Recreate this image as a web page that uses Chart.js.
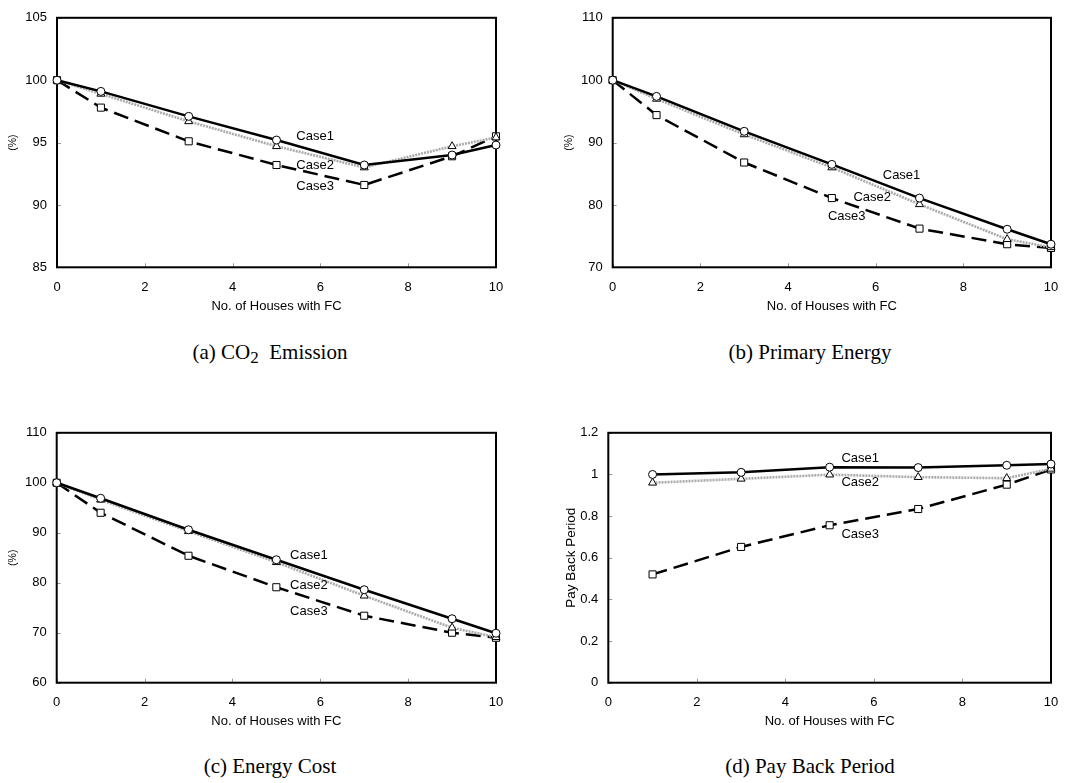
<!DOCTYPE html>
<html>
<head>
<meta charset="utf-8">
<script src="https://cdn.jsdelivr.net/npm/chart.js@4.4.1/dist/chart.umd.min.js"></script>
<style>
  html, body { margin: 0; padding: 0; background: #fff; }
  body { width: 1081px; height: 783px; position: relative; overflow: hidden; }
  .wrap { position: absolute; width: 540px; height: 320px; }
  .cap { position: absolute; width: 540px; text-align: center; font-family: "Liberation Serif", "DejaVu Serif", serif; font-size: 21px; line-height: 20px; color: #000; }
  .cap sub { font-size: 17px; vertical-align: -4px; line-height: 0; }
</style>
</head>
<body>
<div class="wrap" style="left:0;top:0"><canvas id="ca"></canvas></div>
<div class="wrap" style="left:540px;top:0;width:541px"><canvas id="cb"></canvas></div>
<div class="wrap" style="left:0;top:415px"><canvas id="cc"></canvas></div>
<div class="wrap" style="left:540px;top:415px;width:541px"><canvas id="cd"></canvas></div>
<div class="cap" style="left:0;top:342px">(a) CO<sub>2</sub>&nbsp; Emission</div>
<div class="cap" style="left:540px;top:342px">(b) Primary Energy</div>
<div class="cap" style="left:0;top:756px">(c) Energy Cost</div>
<div class="cap" style="left:540px;top:756px">(d) Pay Back Period</div>
<script>
// ---------- data ----------
const seriesNames = ["Case1", "Case2", "Case3"];
const housesA = [0, 1, 3, 5, 7, 9, 10];
const housesD = [1, 3, 5, 7, 9, 10];

const co2Case1 = [100, 99.1, 97.1, 95.2, 93.2, 94.0, 94.8];
const co2Case2 = [100, 98.9, 96.7, 94.7, 93.0, 94.7, 95.4];
const co2Case3 = [100, 97.8, 95.1, 93.2, 91.6, 93.9, 95.5];

const peCase1 = [100, 97.4, 91.8, 86.5, 81.1, 76.1, 73.7];
const peCase2 = [100, 97.0, 91.3, 86.0, 80.1, 74.5, 73.2];
const peCase3 = [100, 94.4, 86.8, 81.1, 76.2, 73.7, 73.1];

const costCase1 = [100, 96.9, 90.6, 84.6, 78.6, 72.8, 69.9];
const costCase2 = [100, 96.6, 90.3, 84.1, 77.4, 71.0, 69.1];
const costCase3 = [100, 94.0, 85.4, 79.1, 73.4, 70.0, 69.0];

const pbCase1 = [1.00, 1.01, 1.035, 1.033, 1.044, 1.05];
const pbCase2 = [0.96, 0.979, 0.999, 0.987, 0.982, 1.027];
const pbCase3 = [0.52, 0.652, 0.756, 0.834, 0.951, 1.024];

const xTitle = "No. of Houses with FC";
const yTitleA = "(%)";
const yTitleD = "Pay Back Period";

// ---------- styles ----------
const FONT = "'Liberation Sans', Arial, sans-serif";
const seriesStyle = [
  { borderColor: "#000", borderWidth: 2.5, borderDash: [], pointStyle: "circle", pointRadius: 4 },
  { borderColor: "#aaaaaa", borderWidth: 2.6, borderDash: [2, 1], pointStyle: "triangle", pointRadius: 4.6 },
  { borderColor: "#000", borderWidth: 2.5, borderDash: [15, 7], pointStyle: "rect", pointRadius: 5 }
];

function makeDatasets(xs, arrays) {
  return arrays.map((arr, i) => Object.assign({
    label: seriesNames[i],
    data: xs.map((x, j) => ({ x: x, y: arr[j] })),
    pointBackgroundColor: "#fff",
    pointBorderColor: "#000",
    pointBorderWidth: 1,
    tension: 0,
    clip: false,
    order: i
  }, seriesStyle[i]));
}

const framePlugin = {
  id: "frame",
  beforeDatasetsDraw(chart) {
    const a = chart.chartArea, ctx = chart.ctx;
    const xs = chart.scales.x, ys = chart.scales.y;
    ctx.save();
    ctx.strokeStyle = "#999";
    ctx.lineWidth = 1;
    xs.ticks.forEach(t => {
      const px = Math.round(xs.getPixelForValue(t.value)) + 0.5;
      ctx.beginPath(); ctx.moveTo(px, a.bottom); ctx.lineTo(px, a.bottom - 4); ctx.stroke();
    });
    ys.ticks.forEach(t => {
      const py = Math.round(ys.getPixelForValue(t.value)) + 0.5;
      ctx.beginPath(); ctx.moveTo(a.left, py); ctx.lineTo(a.left + 4, py); ctx.stroke();
    });
    ctx.strokeStyle = "#000";
    ctx.lineWidth = 2;
    ctx.strokeRect(a.left, a.top, a.right - a.left, a.bottom - a.top);
    ctx.restore();
  },
  afterDraw(chart, args, opts) {
    const a = chart.chartArea, ctx = chart.ctx;
    const xs = chart.scales.x, ys = chart.scales.y;
    ctx.save();
    ctx.fillStyle = "#000";
    ctx.textAlign = "center";
    ctx.textBaseline = "middle";
    ctx.font = "13px " + FONT;
    ctx.fillText(xTitle, (a.left + a.right) / 2, a.bottom + 39);
    (opts.labels || []).forEach((lb, i) => {
      ctx.fillText(seriesNames[i], xs.getPixelForValue(lb[0]), ys.getPixelForValue(lb[1]));
    });
    ctx.translate(opts.yTitleX, (a.top + a.bottom) / 2);
    ctx.rotate(-Math.PI / 2);
    ctx.font = opts.yTitleFont + "px " + FONT;
    ctx.fillText(opts.yTitle, 0, 0);
    ctx.restore();
  }
};

function makeChart(id, cfg) {
  const W = cfg.W, H = 320;
  return new Chart(document.getElementById(id), {
    type: "line",
    data: { datasets: makeDatasets(cfg.xs, cfg.series) },
    plugins: [framePlugin],
    options: {
      responsive: false,
      animation: false,
      devicePixelRatio: 1,
      layout: { padding: { left: 0, top: cfg.top, right: W - cfg.right, bottom: 0 } },
      plugins: {
        legend: { display: false },
        tooltip: { enabled: false },
        frame: { labels: cfg.labels, yTitle: cfg.yTitle, yTitleX: cfg.yTitleX, yTitleFont: cfg.yTitleFont }
      },
      scales: {
        x: {
          type: "linear", min: 0, max: 10,
          ticks: { stepSize: 2, color: "#000", font: { family: FONT, size: 13 }, padding: 12, maxRotation: 0 },
          grid: { display: false, drawTicks: false },
          border: { display: false },
          afterFit: s => { s.height = H - cfg.bottom; }
        },
        y: {
          type: "linear", min: cfg.ymin, max: cfg.ymax,
          ticks: { stepSize: cfg.step, color: "#000", font: { family: FONT, size: 13 }, padding: 10,
                   callback: v => String(+v.toFixed(2)) },
          grid: { display: false, drawTicks: false },
          border: { display: false },
          afterFit: s => { s.width = cfg.left; }
        }
      }
    }
  });
}

function sizeCanvas(id, w) {
  const c = document.getElementById(id);
  c.width = w; c.height = 320;
  c.style.width = w + "px"; c.style.height = "320px";
}
sizeCanvas("ca", 540); sizeCanvas("cb", 541); sizeCanvas("cc", 540); sizeCanvas("cd", 541);

makeChart("ca", { W: 540, left: 57, right: 496, top: 10, bottom: 267.3, xs: housesA,
  series: [co2Case1, co2Case2, co2Case3], ymin: 85, ymax: 105, step: 5,
  labels: [[5.88, 95.5], [5.88, 93.15], [5.88, 91.45]], yTitle: yTitleA, yTitleX: 13, yTitleFont: 10.5 });
makeChart("cb", { W: 541, left: 72.7, right: 511, top: 10, bottom: 267.3, xs: housesA,
  series: [peCase1, peCase2, peCase3], ymin: 70, ymax: 110, step: 10,
  labels: [[6.59, 84.7], [5.92, 81.2], [5.34, 78.1]], yTitle: yTitleA, yTitleX: 29, yTitleFont: 10.5 });
makeChart("cc", { W: 540, left: 56.7, right: 496, top: 10.7, bottom: 267.7, xs: housesA,
  series: [costCase1, costCase2, costCase3], ymin: 60, ymax: 110, step: 10,
  labels: [[5.74, 85.5], [5.74, 79.5], [5.74, 74.3]], yTitle: yTitleA, yTitleX: 13, yTitleFont: 10.5 });
makeChart("cd", { W: 541, left: 68.3, right: 511, top: 10.7, bottom: 267.7, xs: housesD,
  series: [pbCase1, pbCase2, pbCase3], ymin: 0, ymax: 1.2, step: 0.2,
  labels: [[5.69, 1.079], [5.69, 0.962], [5.69, 0.713]], yTitle: yTitleD, yTitleX: 31, yTitleFont: 13.5 });
</script>
</body>
</html>
